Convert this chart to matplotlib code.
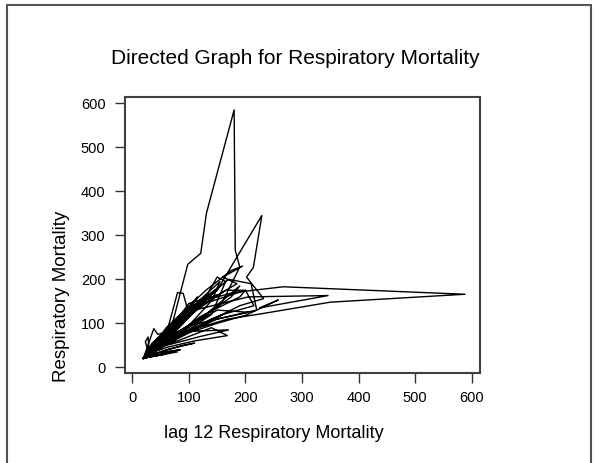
import matplotlib
matplotlib.use("Agg")
import matplotlib.pyplot as plt
from matplotlib.patches import Rectangle

plt.rcParams['font.family'] = ['Liberation Sans', 'DejaVu Sans']

# Directed graph path: (lag-12 value, current value) in time order
lag12 = [25, 35, 60, 80, 90, 100, 130, 150, 165, 140, 70, 40, 22, 18,
         20, 35, 70, 98, 121, 131, 180, 182, 190, 160, 110, 60, 30, 19,
         22, 40, 85, 150, 187, 229, 214, 202, 232, 190, 120, 70, 35, 20,
         25, 50, 120, 180, 267, 588, 350, 230, 170, 90, 45, 25,
         22, 45, 110, 205, 346, 225, 258, 200, 150, 80, 40, 20,
         20, 38, 45, 60, 170, 120, 55, 30,
         25, 50, 100, 155, 140, 200, 215, 160, 100, 50, 26,
         22, 60, 130, 175, 195, 160, 185, 120, 60, 30,
         20, 40, 80, 140, 168, 110, 60, 35, 24,
         20, 35, 90, 170, 210, 220, 150, 75, 45, 30,
         28, 23, 30, 85, 50, 80, 25, 60, 40, 20,
         45, 100, 150, 120, 80, 40, 22,
         24, 55, 130, 190, 175, 110, 50, 25,
         20, 35, 75, 115, 90, 55, 30, 21,
         22, 50, 95, 160, 140, 85, 45, 24,
         20, 40, 65, 100, 135, 95, 50, 27,
         21, 45, 150, 205, 170, 100, 55, 28,
         22, 30, 50, 85, 140, 155, 105, 45, 23,
         25, 60, 110, 90, 50, 28,
         20, 55, 125, 165, 200, 190, 120, 60, 26]
resp = [30, 45, 75, 170, 168, 120, 160, 205, 195, 120, 60, 40, 24, 20,
        22, 55, 95, 234, 259, 350, 585, 266, 228, 150, 100, 55, 30, 19,
        25, 60, 115, 175, 255, 345, 227, 205, 156, 140, 95, 60, 32, 21,
        28, 70, 150, 170, 183, 166, 148, 122, 110, 80, 45, 25,
        24, 60, 130, 160, 163, 135, 153, 118, 100, 70, 38, 22,
        22, 88, 75, 80, 85, 70, 48, 30,
        26, 65, 130, 195, 150, 175, 140, 120, 85, 50, 27,
        23, 90, 175, 220, 230, 205, 190, 140, 60, 30,
        21, 45, 60, 90, 72, 60, 45, 33, 22,
        20, 40, 110, 200, 190, 130, 110, 65, 40, 28,
        69, 58, 30, 40, 32, 35, 22, 30, 28, 20,
        55, 95, 165, 150, 90, 42, 22,
        25, 60, 120, 185, 160, 100, 48, 24,
        21, 50, 100, 160, 110, 70, 34, 22,
        22, 45, 75, 120, 110, 70, 40, 23,
        20, 60, 85, 145, 160, 115, 55, 28,
        22, 50, 130, 125, 115, 95, 50, 26,
        20, 45, 70, 120, 170, 185, 120, 48, 21,
        22, 40, 55, 50, 35, 24,
        22, 75, 140, 175, 175, 160, 115, 58, 25]

title = "Directed Graph for Respiratory Mortality"
xlabel = "lag 12 Respiratory Mortality"
ylabel = "Respiratory Mortality"
ticks = [0, 100, 200, 300, 400, 500, 600]

W, H = 595, 463
fig = plt.figure(figsize=(W / 100, H / 100), dpi=100)
fig.patch.set_facecolor('white')

# outer frame
fig.patches.append(Rectangle((6.5 / W, -0.05), (591 - 6.5) / W, 1.05 - 5.5 / H,
                             transform=fig.transFigure, fill=False,
                             edgecolor='#555555', lw=1.5))

left, right, top, bottom = 125, 480, 96.7, 372.7
ax = fig.add_axes([left / W, 1 - bottom / H, (right - left) / W, (bottom - top) / H])
ax.plot(lag12, resp, color='black', lw=1.0)
ax.set_xlim(-12.9, 614.6)
ax.set_ylim(-12.3, 615)
ax.set_xticks(ticks)
ax.set_yticks(ticks)
ax.tick_params(direction='out', length=7, width=1, colors='#333333',
               labelcolor='black', labelsize=10.5)
ax.tick_params(axis='y', pad=7)
ax.tick_params(axis='x', pad=6)
for s in ax.spines.values():
    s.set_color('#404040')
    s.set_linewidth(1.5)

fig.text(295 / W, 1 - 58 / H, title, ha='center', va='center', fontsize=15)
fig.text(274 / W, 1 - 434 / H, xlabel, ha='center', va='center', fontsize=13)
fig.text(61 / W, 1 - 296 / H, ylabel, ha='center', va='center', fontsize=13.5,
         rotation=90)

fig.savefig('out.png', dpi=100)
